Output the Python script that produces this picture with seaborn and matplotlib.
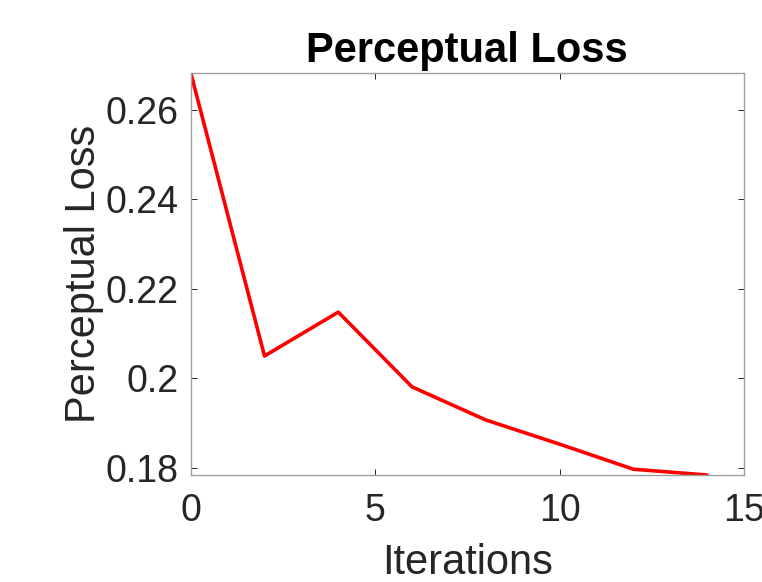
import matplotlib
matplotlib.use("Agg")
import matplotlib.pyplot as plt
import seaborn as sns
import pandas as pd

iterations = [0, 2, 4, 6, 8, 10, 12, 14]
perceptual_loss = [0.2683, 0.2050, 0.2148, 0.1981, 0.1907, 0.1853, 0.1797, 0.1784]
x_ticks = [0, 5, 10, 15]
y_ticks = [0.18, 0.20, 0.22, 0.24, 0.26]
y_tick_labels = ["0.18", "0.2", "0.22", "0.24", "0.26"]

sns.set_theme(style="white")
plt.rcParams["font.family"] = ["Liberation Sans", "DejaVu Sans"]

df = pd.DataFrame({"Iterations": iterations, "Perceptual Loss": perceptual_loss})

fig = plt.figure(figsize=(7.62, 5.82), dpi=100)
ax = fig.add_axes([0.2503, 0.1838, 0.9764 - 0.2503, 0.8751 - 0.1838])
sns.lineplot(data=df, x="Iterations", y="Perceptual Loss", color="#ff0000",
             linewidth=2.6, ax=ax)

ax.set_xlim(0, 15)
ax.set_ylim(min(perceptual_loss), max(perceptual_loss))
ax.set_xticks(x_ticks)
ax.set_yticks(y_ticks)
ax.set_yticklabels(y_tick_labels)

txt = "#262626"
ax.tick_params(axis="both", direction="in", length=4, width=0.7, color="#262626",
               labelsize=27, labelcolor=txt, top=True, right=True,
               bottom=True, left=True)
ax.tick_params(axis="x", pad=13)
ax.tick_params(axis="y", pad=9)
for s in ax.spines.values():
    s.set_visible(True)
    s.set_color("#a0a0a0")
    s.set_linewidth(1.0)

ax.set_xlabel("Iterations", fontsize=30, color=txt, labelpad=10)
ax.set_ylabel("Perceptual Loss", fontsize=30, color=txt, labelpad=1)
ax.set_title("Perceptual Loss", fontsize=30, fontweight="bold", color="black", pad=8)

fig.savefig("out.png", dpi=100)
